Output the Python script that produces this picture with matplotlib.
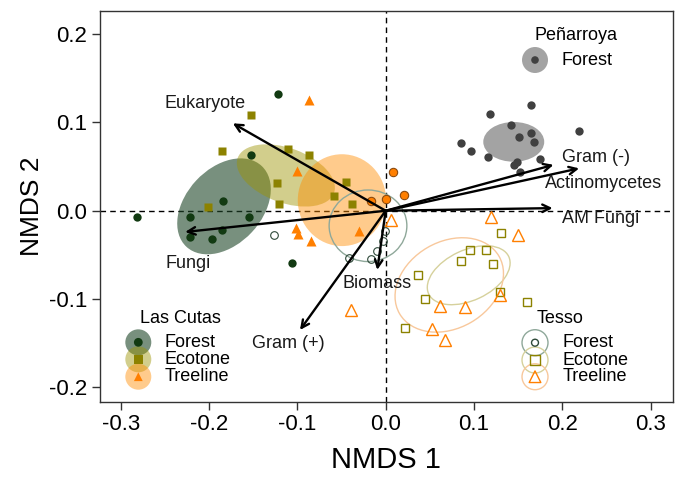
import matplotlib
matplotlib.use("Agg")
import matplotlib.pyplot as plt
from matplotlib.patches import Ellipse

plt.rcParams['font.family'] = ['Liberation Sans', 'DejaVu Sans']

# ---------------- data ----------------
# Peñarroya Forest
pen_x = [0.165, 0.118, 0.219, 0.142, 0.151, 0.164, 0.168, 0.085, 0.097, 0.116, 0.175, 0.149, 0.145, 0.152]
pen_y = [0.120, 0.109, 0.090, 0.097, 0.083, 0.088, 0.078, 0.077, 0.068, 0.061, 0.059, 0.055, 0.052, 0.044]

# Las Cutas
lcf_x = [-0.122, -0.153, -0.184, -0.281, -0.221, -0.155, -0.185, -0.221, -0.197, -0.106]
lcf_y = [0.132, 0.063, 0.011, -0.007, -0.007, -0.007, -0.022, -0.030, -0.032, -0.059]
lce_x = [-0.153, -0.185, -0.111, -0.087, -0.123, -0.045, -0.059, -0.121, -0.038, -0.201]
lce_y = [0.108, 0.068, 0.070, 0.063, 0.032, 0.033, 0.017, 0.008, 0.008, 0.004]
lct_x = [-0.087, -0.100, -0.102, -0.099, -0.085, -0.030]
lct_y = [0.125, 0.045, -0.020, -0.026, -0.034, -0.023]
lct_ring_x = [0.008, -0.017, 0.000, 0.021]
lct_ring_y = [0.044, 0.011, 0.013, 0.018]

# Tesso
tf_x = [-0.001, -0.003, -0.010, -0.017, -0.042, -0.126]
tf_y = [-0.023, -0.034, -0.045, -0.055, -0.054, -0.028]
te_x = [0.130, 0.095, 0.114, 0.085, 0.122, 0.037, 0.129, 0.045, 0.160, 0.022]
te_y = [-0.025, -0.044, -0.044, -0.057, -0.060, -0.073, -0.092, -0.100, -0.103, -0.133]
tt_x = [0.119, 0.150, 0.129, 0.061, 0.090, 0.053, 0.067, 0.006, -0.039]
tt_y = [-0.007, -0.028, -0.095, -0.108, -0.109, -0.134, -0.146, -0.011, -0.112]

# Group ellipses: centre x, centre y, width, height, angle
ell_pen = (0.145, 0.078, 0.069, 0.045, 0)
ell_lcf = (-0.183, 0.005, 0.125, 0.086, 47)
ell_lce = (-0.113, 0.040, 0.116, 0.062, -20)
ell_lct = (-0.0495, 0.012, 0.100, 0.104, 0)
ell_tf = (-0.020, -0.017, 0.088, 0.081, 0)
ell_te = (0.094, -0.073, 0.100, 0.057, 25)
ell_tt = (0.072, -0.084, 0.130, 0.098, 30)

# Environmental vectors
vec_names = ["Eukaryote", "Fungi", "Gram (+)", "Biomass", "Gram (-)", "Actinomycetes", "AM Fungi"]
vec_x = [-0.173, -0.227, -0.097, -0.0095, 0.190, 0.219, 0.189]
vec_y = [0.099, -0.024, -0.135, -0.067, 0.052, 0.048, 0.003]
lab_x = [-0.205, -0.224, -0.110, -0.010, 0.238, 0.247, 0.243]
lab_y = [0.122, -0.060, -0.150, -0.082, 0.060, 0.031, -0.009]

# ---------------- colours ----------------
c_pen = '#404040'
c_pen_ell = '#a3a3a3'
c_lcf = '#123a12'
c_lce = '#8c8200'
c_lct = '#ff7f00'
c_lcf_ell = '#1e4628'
c_lce_ell = '#9c9400'
c_lct_ell = '#ff8c00'
c_tf = '#2f4a3a'
c_tf_ell = '#8fa89a'
c_te_ell = '#d6d19c'
c_tt_ell = '#f8c89c'

fig = plt.figure(figsize=(6.83, 4.78), dpi=100)
ax = fig.add_axes([0.1464, 0.160, 0.8386, 0.817])
ax.set_xlim(-0.3234, 0.325)
ax.set_ylim(-0.216, 0.2262)

ax.axhline(0, color='black', ls=(0, (4, 3)), lw=1, zorder=1)
ax.axvline(0, color='black', ls=(0, (4, 3)), lw=1, zorder=1)

def add_ell(p, **kw):
    e = Ellipse((p[0], p[1]), p[2], p[3], angle=p[4], **kw)
    ax.add_patch(e)

# filled ellipses
add_ell(ell_lcf, facecolor=c_lcf_ell, alpha=0.6, edgecolor='none', zorder=2)
add_ell(ell_lce, facecolor=c_lce_ell, alpha=0.45, edgecolor='none', zorder=2)
add_ell(ell_lct, facecolor=c_lct_ell, alpha=0.45, edgecolor='none', zorder=2)
add_ell(ell_pen, facecolor=c_pen_ell, edgecolor='none', zorder=2)
# outline ellipses
add_ell(ell_tf, facecolor='none', edgecolor=c_tf_ell, lw=1, zorder=2)
add_ell(ell_te, facecolor='none', edgecolor=c_te_ell, lw=1, zorder=2)
add_ell(ell_tt, facecolor='none', edgecolor=c_tt_ell, lw=1, zorder=2)

# points
ax.plot(pen_x, pen_y, 'o', color=c_pen, ms=6, mec='none', zorder=4)
ax.plot(lcf_x, lcf_y, 'o', color=c_lcf, ms=6, mec='none', zorder=4)
ax.plot(lce_x, lce_y, 's', color=c_lce, ms=6, mec='none', zorder=4)
ax.plot(lct_x, lct_y, '^', color=c_lct, ms=7, mec='none', zorder=4)
ax.plot(lct_ring_x, lct_ring_y, 'o', color=c_lct, ms=6, mec='#8a4a10', mew=0.8, zorder=4)
ax.plot(lct_ring_x, lct_ring_y, '^', color=c_lct, ms=4, mec='none', zorder=4)
ax.plot(tf_x, tf_y, 'o', mfc='none', mec=c_tf, ms=5.5, mew=0.8, zorder=4)
ax.plot(te_x, te_y, 's', mfc='none', mec=c_lce, ms=6, mew=1, zorder=4)
ax.plot(tt_x, tt_y, '^', mfc='none', mec=c_lct, ms=8, mew=1, zorder=4)

# vectors
for i in range(len(vec_names)):
    ax.annotate('', xy=(vec_x[i], vec_y[i]), xytext=(0, 0),
                arrowprops=dict(arrowstyle='->,head_length=0.55,head_width=0.27',
                                color='black', lw=1.7, shrinkA=0, shrinkB=0),
                zorder=5)
    ax.text(lab_x[i], lab_y[i], vec_names[i], fontsize=13, ha='center',
            va='center', color='#1a1a1a', zorder=6)

# ---------------- legends (drawn manually) ----------------
T = ax.transAxes
big = 350
fs = 13
# Las Cutas
ax.text(0.1397, 0.2135, 'Las Cutas', transform=T, ha='center', va='center', fontsize=fs)
lc_rows = [0.1516, 0.1081, 0.0635]
lc_cols = [(c_lcf_ell, 0.6, c_lcf, 'o', 'Forest'),
           (c_lce_ell, 0.45, c_lce, 's', 'Ecotone'),
           (c_lct_ell, 0.45, c_lct, '^', 'Treeline')]
for yy, (ec, al, pc, mk, nm) in zip(lc_rows, lc_cols):
    ax.scatter([0.0669], [yy], s=big, color=ec, alpha=al, edgecolors='none',
               transform=T, zorder=7, clip_on=False)
    ax.scatter([0.0669], [yy], s=40, color=pc, marker=mk, edgecolors='none',
               transform=T, zorder=8, clip_on=False)
    ax.text(0.1123, yy, nm, transform=T, ha='left', va='center', fontsize=fs)

# Tesso
ax.text(0.803, 0.2135, 'Tesso', transform=T, ha='center', va='center', fontsize=fs)
ts_rows = [0.1506, 0.1062, 0.0635]
ts_cols = [(c_tf_ell, c_tf, 'o', 25, 'Forest'),
           (c_te_ell, c_lce, 's', 45, 'Ecotone'),
           (c_tt_ell, c_lct, '^', 70, 'Treeline')]
for yy, (ec, pc, mk, sz, nm) in zip(ts_rows, ts_cols):
    ax.scatter([0.7595], [yy], s=big, facecolors='none', edgecolors=ec, linewidths=1,
               transform=T, zorder=7, clip_on=False)
    ax.scatter([0.7595], [yy], s=sz, facecolors='none', edgecolors=pc, marker=mk,
               linewidths=1, transform=T, zorder=8, clip_on=False)
    ax.text(0.8072, yy, nm, transform=T, ha='left', va='center', fontsize=fs)

# Peñarroya
ax.text(0.831, 0.9385, 'Peñarroya', transform=T, ha='center', va='center', fontsize=fs)
ax.scatter([0.7595], [0.8745], s=big, color=c_pen_ell, edgecolors='none', transform=T, zorder=7)
ax.scatter([0.7595], [0.8745], s=30, color=c_pen, edgecolors='none', transform=T, zorder=8)
ax.text(0.806, 0.8745, 'Forest', transform=T, ha='left', va='center', fontsize=fs)

# ---------------- axes styling ----------------
ax.set_xticks([-0.3, -0.2, -0.1, 0.0, 0.1, 0.2, 0.3])
ax.set_yticks([-0.2, -0.1, 0.0, 0.1, 0.2])
ax.set_xticklabels(['-0.3', '-0.2', '-0.1', '0.0', '0.1', '0.2', '0.3'])
ax.set_yticklabels(['-0.2', '-0.1', '0.0', '0.1', '0.2'])
ax.tick_params(labelsize=16, length=6, width=1, color='#333333', pad=3)
for s in ax.spines.values():
    s.set_color('#333333')
    s.set_linewidth(1)
ax.set_xlabel('NMDS 1', fontsize=21, labelpad=8)
ax.set_ylabel('NMDS 2', fontsize=19, labelpad=4)

fig.savefig('out.png', dpi=100)
